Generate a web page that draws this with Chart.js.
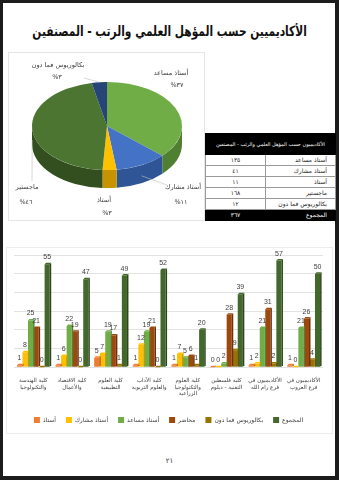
<!DOCTYPE html>
<html lang="ar">
<head>
<meta charset="utf-8">
<script src="https://cdn.jsdelivr.net/npm/chart.js@4.4.1/dist/chart.umd.min.js"></script>
<style>
  html, body { margin: 0; padding: 0; }
  body { width: 339px; height: 480px; background: #1c1c1c; position: relative; overflow: hidden; font-family: 'DejaVu Sans', sans-serif; }
  #page { position: absolute; left: 3px; top: 3px; width: 332px; height: 473px; background: #fff; }
  #title { position: absolute; left: -100px; top: 21px; width: 539px; text-align: center; white-space: nowrap; }
  #title span { display: inline-block; font-weight: bold; font-size: 14px; color: #111; direction: rtl; transform: scaleX(0.76); }
  #pieBox { position: absolute; left: 8px; top: 52px; width: 197px; height: 169px; box-sizing: border-box; border: 1px solid #e6e6e6; }
  #pie { position: absolute; left: 9px; top: 53px; }
  #tbl { position: absolute; left: 205px; top: 133px; width: 131px; border-collapse: collapse; direction: rtl; font-size: 6px; color: #222; }
  #tbl td { border: 1px solid #9a9a9a; padding: 0; height: 10px; line-height: 10px; white-space: nowrap; }
  #tbl td.name { text-align: right; padding-right: 8px; width: 61px; }
  #tbl td.num { text-align: center; }
  #tbl tr.head td { background: #000; color: #fff; height: 20px; text-align: center; font-size: 5px; border-color: #000; }
  #tbl tr.sum td { background: #000; color: #fff; border-color: #000; }
  #barBox { position: absolute; left: 6px; top: 247px; width: 327px; height: 187px; box-sizing: border-box; border: 1px solid #ececec; }
  #bars { position: absolute; left: 8px; top: 247px; }
  #pageNo { position: absolute; left: 0; top: 457px; width: 339px; text-align: center; font-size: 7px; color: #333; }
</style>
</head>
<body>
<div id="page"></div>
<div id="title"><span>الأكاديميين حسب المؤهل العلمي والرتب - المصنفين</span></div>
<div id="pieBox"></div>
<canvas id="pie" width="195" height="167"></canvas>
<table id="tbl"></table>
<div id="barBox"></div>
<canvas id="bars" width="325" height="186"></canvas>
<div id="pageNo">٢١</div>
<script>
// pie + table data
const rankNames = ['أستاذ مساعد', 'أستاذ مشارك', 'أستاذ', 'ماجستير', 'بكالوريوس فما دون'];
const rankCounts = [135, 41, 11, 168, 12];
const rankColors = ['#70ad47', '#4472c4', '#ffc000', '#4b7530', '#264478'];
const rankSideColors = ['#4f7f31', '#2f5597', '#c79400', '#334f20', '#182d52'];
const tableTitle = 'الأكاديميون حسب المؤهل العلمي والرتب - المصنفين';
const totalName = 'المجموع';

// bar chart data
const faculties = [
  ['كلية الهندسة', 'والتكنولوجيا'],
  ['كلية الاقتصاد', 'والأعمال'],
  ['كلية العلوم', 'التطبيقية'],
  ['كلية الآداب', 'والعلوم التربوية'],
  ['كلية العلوم', 'والتكنولوجيا', 'الزراعية'],
  ['كلية فلسطين', 'التقنية - دبلوم'],
  ['الأكاديميون في', 'فرع رام الله'],
  ['الأكاديميون في', 'فرع العروب']
];
const seriesNames = ['أستاذ', 'أستاذ مشارك', 'أستاذ مساعد', 'محاضر', 'بكالوريوس فما دون', 'المجموع'];
const professor = [1, 1, 5, 1, 1, 0, 1, 1];
const associate = [8, 6, 7, 12, 7, 0, 2, 0];
const assistant = [25, 22, 19, 19, 5, 2, 21, 21];
const lecturer = [21, 19, 17, 21, 6, 28, 31, 26];
const bachelor = [0, 0, 1, 0, 1, 9, 2, 4];
const total = [55, 47, 49, 52, 20, 39, 57, 50];
const seriesColors = ['#ed7d31', '#ffc000', '#70ad47', '#9e480e', '#997300', '#43682b'];
const seriesSides = ['#b85f22', '#c99700', '#528235', '#6e320a', '#6b5000', '#2c451c'];

const arabicDigits = n => String(n).replace(/\d/g, d => '٠١٢٣٤٥٦٧٨٩'[d]);
const rankTotal = rankCounts.reduce((a, b) => a + b, 0);

// table
const tbl = document.getElementById('tbl');
let html = '<tr class="head"><td colspan="2">' + tableTitle + '</td></tr>';
rankNames.forEach((n, i) => {
  html += '<tr><td class="name">' + n + '</td><td class="num">' + arabicDigits(rankCounts[i]) + '</td></tr>';
});
html += '<tr class="sum"><td class="name">' + totalName + '</td><td class="num">' + arabicDigits(rankTotal) + '</td></tr>';
tbl.innerHTML = html;

// 3D look for the pie: squash it and draw the rim
const pie3d = {
  id: 'pie3d',
  beforeDatasetsDraw(chart, args, opts) {
    const ctx = chart.ctx;
    const arcs = chart.getDatasetMeta(0).data;
    const cx = arcs[0].x, cy = arcs[0].y;
    ctx.save();
    ctx.translate(cx, opts.centerY);
    ctx.scale(1, opts.tilt);
    ctx.translate(-cx, -cy);
    const depth = opts.depth / opts.tilt;
    arcs.forEach((arc, i) => {
      const a0 = Math.max(arc.startAngle, 0);
      const a1 = Math.min(arc.endAngle, Math.PI);
      if (a1 <= a0) return;
      ctx.beginPath();
      ctx.arc(cx, cy, arc.outerRadius, a0, a1);
      ctx.arc(cx, cy + depth, arc.outerRadius, a1, a0, true);
      ctx.closePath();
      ctx.fillStyle = rankSideColors[i];
      ctx.fill();
    });
  },
  afterDatasetsDraw(chart) {
    chart.ctx.restore();
  }
};

// pie labels: name + percent, some with leader lines
const pieLabelPos = [
  { x: 162, y: 20, px: 168, py: 32 },
  { x: 174, y: 134, px: 172, py: 149, line: [158, 132] },
  { x: 95, y: 147, px: 98, py: 160 },
  { x: 18, y: 134, px: 17, py: 149, line: [23, 128] },
  { x: 49, y: 12, px: 48, py: 24, line: [75, 25] }
];
const pieLabels = {
  id: 'pieLabels',
  afterDraw(chart) {
    const ctx = chart.ctx;
    const p = chart.options.plugins.pie3d;
    const arcs = chart.getDatasetMeta(0).data;
    ctx.save();
    ctx.font = '6.5px "DejaVu Sans"';
    ctx.fillStyle = '#404040';
    ctx.textAlign = 'center';
    ctx.textBaseline = 'middle';
    arcs.forEach((arc, i) => {
      const lp = pieLabelPos[i];
      const pct = Math.round(rankCounts[i] / rankTotal * 100);
      ctx.fillText(rankNames[i], lp.x, lp.y);
      ctx.fillText('%' + arabicDigits(pct), lp.px, lp.py);
      if (lp.line) {
        const mid = (arc.startAngle + arc.endAngle) / 2;
        const ex = arc.x + arc.outerRadius * Math.cos(mid);
        let ey = p.centerY + arc.outerRadius * p.tilt * Math.sin(mid);
        if (Math.sin(mid) > 0) ey += p.depth * 0.6;
        ctx.strokeStyle = '#bdbdbd';
        ctx.lineWidth = 0.6;
        ctx.beginPath();
        ctx.moveTo(lp.line[0], lp.line[1]);
        ctx.lineTo(ex, ey);
        ctx.stroke();
      }
    });
    ctx.restore();
  }
};

new Chart(document.getElementById('pie'), {
  type: 'pie',
  data: {
    labels: rankNames,
    datasets: [{
      data: rankCounts,
      backgroundColor: rankColors,
      borderWidth: 0,
      clip: false
    }]
  },
  options: {
    responsive: false,
    animation: false,
    events: [],
    layout: { padding: { left: 23, right: 22, top: 0, bottom: 17 } },
    plugins: {
      legend: { display: false },
      tooltip: { enabled: false },
      pie3d: { tilt: 0.587, depth: 18, centerY: 73 }
    }
  },
  plugins: [pie3d, pieLabels]
});

// 3D look for bars: right side and top face, plus value labels
const bar3d = {
  id: 'bar3d',
  afterDatasetDraw(chart, args, opts) {
    const ctx = chart.ctx;
    const d = opts.depth;
    ctx.save();
    args.meta.data.forEach(bar => {
      const { x, y, base, width } = bar.getProps(['x', 'y', 'base', 'width'], true);
      const l = x - width / 2, r = x + width / 2;
      ctx.fillStyle = seriesSides[args.index];
      ctx.beginPath();
      ctx.moveTo(r, y); ctx.lineTo(r + d, y - d); ctx.lineTo(r + d, base - d); ctx.lineTo(r, base);
      ctx.closePath(); ctx.fill();
      ctx.fillStyle = seriesColors[args.index];
      ctx.beginPath();
      ctx.moveTo(l, y); ctx.lineTo(l + d, y - d); ctx.lineTo(r + d, y - d); ctx.lineTo(r, y);
      ctx.closePath(); ctx.fill();
    });
    ctx.restore();
  },
  afterDatasetsDraw(chart, args, opts) {
    const ctx = chart.ctx;
    ctx.save();
    ctx.font = '7px "Liberation Sans"';
    ctx.fillStyle = '#404040';
    ctx.textAlign = 'center';
    ctx.textBaseline = 'bottom';
    chart.data.datasets.forEach((ds, i) => {
      chart.getDatasetMeta(i).data.forEach((bar, j) => {
        ctx.fillText(ds.data[j], bar.x, bar.y - opts.depth - 2);
      });
    });
    ctx.restore();
  }
};

const seriesData = [professor, associate, assistant, lecturer, bachelor, total];
new Chart(document.getElementById('bars'), {
  type: 'bar',
  data: {
    labels: faculties,
    datasets: seriesNames.map((name, i) => ({
      label: name,
      data: seriesData[i],
      backgroundColor: seriesColors[i],
      categoryPercentage: 0.86,
      barPercentage: 0.92
    }))
  },
  options: {
    responsive: false,
    animation: false,
    events: [],
    layout: { padding: { left: 6, right: 10, top: 8, bottom: 0 } },
    scales: {
      x: {
        grid: { display: false, drawTicks: false },
        border: { display: false },
        ticks: { font: { family: 'DejaVu Sans', size: 5.5 }, color: '#404040', padding: 10, maxRotation: 0, autoSkip: false }
      },
      y: {
        min: 0, max: 60,
        ticks: { display: false, stepSize: 10 },
        grid: { color: '#e3e3e3', drawTicks: false },
        border: { display: false }
      }
    },
    plugins: {
      legend: {
        position: 'bottom',
        labels: { boxWidth: 6, boxHeight: 6, padding: 10, color: '#404040', font: { family: 'DejaVu Sans', size: 6 } }
      },
      tooltip: { enabled: false },
      bar3d: { depth: 1.5 }
    }
  },
  plugins: [bar3d]
});
</script>
</body>
</html>
